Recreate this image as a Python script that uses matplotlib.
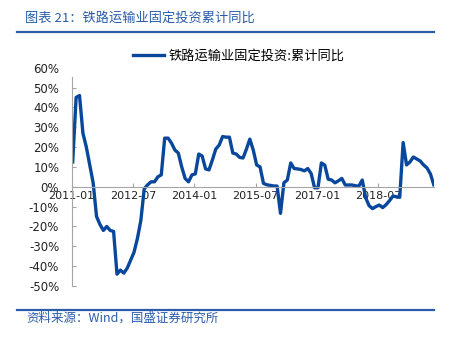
import matplotlib
matplotlib.use("Agg")
import matplotlib.pyplot as plt
import numpy as np
import pandas as pd

# 铁路运输业固定投资:累计同比 (%), monthly 2011-01 .. 2019-11
values = [12.5, 45, 46, 27, 20, 11, 2, -15, -19, -22, -20, -22,
          -22.5, -44, -42, -43.5, -41, -37, -33, -26, -17, -1, 1, 2.5,
          2.5, 5, 6, 24.5, 24.5, 22, 18.5, 17, 10, 4.2, 2.5, 6,
          6.5, 16.5, 15.5, 9, 8.5, 13.5, 19, 21, 25.3, 25, 25, 17,
          16.5, 14.8, 14.5, 19, 24, 18.5, 11, 10, 1.7, 1, 0.7, 0.4,
          0.35, -13.4, 2, 3.4, 12, 9.2, 9, 8.7, 8, 9.2, 6.7, -0.5,
          -0.5, 12, 10.9, 3.8, 3.4, 2, 3, 4.2, 0.9, 0.9, 0.9, 0.5,
          0.3, 3.4, -5.5, -9.5, -11, -10, -9.2, -10.5, -9, -7, -4.7, -5,
          -5.3, 22.3, 11, 12.5, 15, 14, 13, 11, 9.5, 6.5, 1]
months = pd.date_range("2011-01", periods=len(values), freq="MS")
yticks = list(range(-50, 61, 10))
series_name = "铁路运输业固定投资:累计同比"
title = "图表 21：铁路运输业固定投资累计同比"
source = "资料来源：Wind，国盛证券研究所"

cjk = ["Noto Sans CJK SC", "DejaVu Sans"]
blue = "#08479c"
head_blue = "#2a5caa"
grey = "#a6a6a6"

fig = plt.figure(figsize=(4.56, 3.4), dpi=100)
ax = fig.add_axes([0.1572, 0.1588, 0.7956, 0.6421])

x = np.arange(len(values)) + 0.3
ax.plot(x, values, color=blue, lw=2.4, solid_joinstyle="round")
ax.set_xlim(0, 106.5)
ax.set_ylim(-50, 60)

# axes look
for s in ["top", "right"]:
    ax.spines[s].set_visible(False)
ax.spines["bottom"].set_position(("data", 0))
ax.spines["bottom"].set_color(grey)
ax.spines["left"].set_color(grey)
ax.spines["left"].set_bounds(-50, 55.5)

tick_idx = np.arange(0, len(values), 18)
ax.set_xticks(tick_idx)
ax.set_xticklabels([months[i].strftime("%Y-%m") for i in tick_idx])
ax.set_yticks(yticks)
ax.set_yticklabels([f"{v}%" for v in yticks])
ax.tick_params(axis="x", direction="in", length=3, color=grey, pad=3,
               labelsize=8, labelcolor="#222222")
ax.tick_params(axis="y", direction="in", length=3, color=grey, pad=9,
               labelsize=8.5, labelcolor="#222222")
ax.yaxis.get_major_ticks()[-1].tick1line.set_visible(False)

# legend
ax.legend([series_name], loc="center", bbox_to_anchor=(0.461, 1.054),
          frameon=False, handlelength=2.3, handletextpad=0.35,
          borderpad=0, prop={"family": cjk, "size": 9.5})

# header / footer
fig.text(0.055, 0.945, title, color=head_blue, fontsize=9.5, family=cjk,
         va="center", ha="left")
fig.add_artist(plt.Line2D([0.037, 0.952], [0.906, 0.906], color=head_blue, lw=1.6))
fig.add_artist(plt.Line2D([0.037, 0.952], [0.087, 0.087], color=head_blue, lw=1.6))
fig.text(0.059, 0.064, source, color=head_blue, fontsize=9, family=cjk,
         va="center", ha="left")

fig.savefig("out.png", dpi=100)
